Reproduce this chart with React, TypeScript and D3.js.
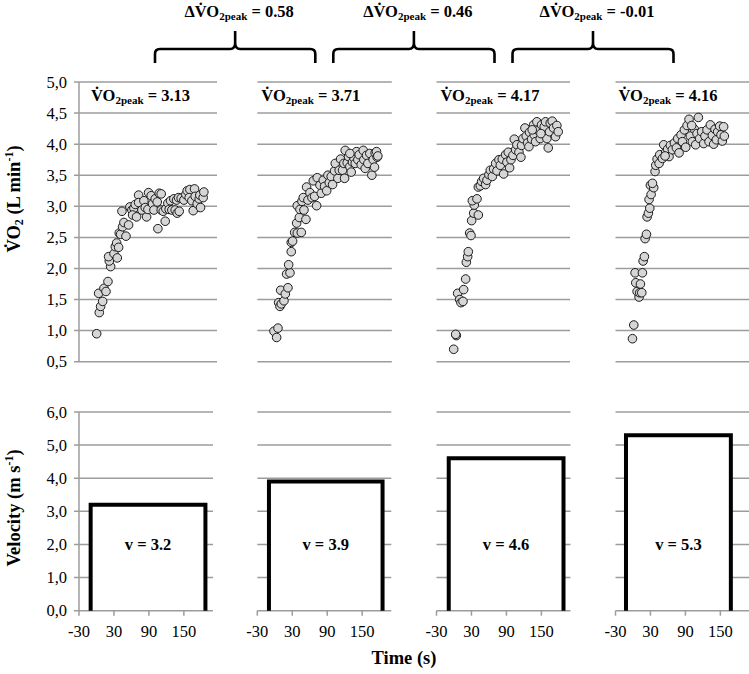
import React from 'react';
import * as d3 from 'd3';

// ---------- DATA ----------
const velocities = [3.2, 3.9, 4.6, 5.3];
const vo2Peaks = ['3.13', '3.71', '4.17', '4.16'];
const deltaPeaks = ['0.58', '0.46', '-0.01'];
const stageStart = [-10, -10, -9, -12];
const stageEnd = [187, 185, 188, 168];
const timeTicks = [-30, 30, 90, 150];
const vo2Ticks = [0.5, 1.0, 1.5, 2.0, 2.5, 3.0, 3.5, 4.0, 4.5, 5.0];
const velTicks = [0, 1, 2, 3, 4, 5, 6];

const vo2Run1: [number, number][] = [
  [0.3, 0.95], [4.8, 1.29], [7.1, 1.39], [10.6, 1.47], [3.7, 1.6], [12.8, 1.68], [16.3, 1.63], [19.7, 1.79],
  [24.3, 2.03], [22, 2.12], [20.8, 2.19], [30, 2.24], [35.7, 2.17], [32.3, 2.35], [34.6, 2.41], [38, 2.34],
  [39.1, 2.57], [41.4, 2.55], [50.6, 2.52], [44.8, 2.67], [47.1, 2.74], [55.1, 2.7], [43.7, 2.92], [57.4, 2.99],
  [60.8, 2.94], [64.3, 2.97], [66.6, 3.03], [62, 2.86], [68.8, 2.83], [72.3, 3.18], [72.3, 3.06], [78, 2.94],
  [81.4, 3.09], [86, 2.83], [83.7, 2.98], [89.4, 3.22], [88.3, 2.95], [94, 3.17], [96.3, 3.04], [98.6, 2.94],
  [100.8, 3.12], [104.3, 3.07], [105.4, 2.64], [107.7, 3.21], [111.1, 3.2], [111.1, 2.94], [114.6, 2.92], [118, 2.76],
  [119.1, 2.96], [122.6, 3.05], [124.8, 2.95], [127.1, 3.09], [129.4, 2.94], [132.8, 3.12], [135.1, 2.94], [137.4, 3.1],
  [138.6, 2.89], [140.8, 3.14], [142, 2.92], [145.4, 3.13], [150, 3.1], [153.4, 3.19], [155.7, 3.25], [160.3, 3.27],
  [159.1, 3.14], [163.7, 3.09], [166, 2.93], [168.3, 3.28], [169.4, 3.16], [172.9, 3.04], [176.3, 3.12], [178.6, 2.98],
  [177.4, 3.18], [183.1, 3.14], [184.3, 3.23],
];

const vo2Run2: [number, number][] = [
  [-1.4, 0.99], [5.5, 1.04], [3.2, 0.89], [6.6, 1.45], [8.9, 1.39], [11.2, 1.43], [15.8, 1.48], [10.1, 1.65],
  [18.1, 1.59], [22.6, 1.69], [20.3, 1.91], [26.1, 1.93], [23.8, 2.06], [28.3, 2.27], [28.3, 2.42], [30.6, 2.44],
  [34.1, 2.58], [38.6, 2.57], [45.5, 2.58], [37.5, 2.73], [42.1, 2.82], [53.5, 2.79], [38.6, 3.01], [43.2, 2.95],
  [50.1, 2.94], [46.6, 3.08], [54.6, 3.31], [48.9, 3.14], [56.9, 3.1], [60.3, 3.22], [63.8, 3.14], [68.3, 3.16],
  [71.8, 3.01], [66.1, 3.41], [72.9, 3.46], [77.5, 3.34], [79.8, 3.21], [83.2, 3.42], [85.5, 3.32], [89.1, 3.25],
  [91.2, 3.5], [93.5, 3.38], [96.9, 3.48], [99.2, 3.35], [102.6, 3.57], [103.8, 3.69], [108.3, 3.45], [110.6, 3.58],
  [112.9, 3.76], [116.3, 3.58], [119.8, 3.45], [120.9, 3.9], [118.6, 3.69], [124.3, 3.7], [126.6, 3.8], [128.9, 3.64],
  [131.2, 3.55], [133.5, 3.71], [135.8, 3.78], [138.1, 3.69], [140.3, 3.88], [142.6, 3.75], [144.9, 3.83], [148.3, 3.67],
  [151.8, 3.9], [152.9, 3.75], [155.2, 3.61], [157.5, 3.82], [159.8, 3.69], [163.2, 3.85], [166.6, 3.5], [168.9, 3.75],
  [171.2, 3.63], [172.3, 3.86], [174.6, 3.88], [175.8, 3.79], [176.9, 3.81], [128.9, 3.85],
];

const vo2Run3: [number, number][] = [
  [-0.5, 0.7], [4.0, 0.92], [2.9, 0.94], [6.3, 1.6], [9.8, 1.5], [12.0, 1.45], [15.5, 1.47], [16.6, 1.66],
  [20.0, 1.83], [21.2, 2.1], [23.5, 2.19], [24.6, 2.27], [26.9, 2.57], [29.2, 2.53], [30.3, 2.77], [33.8, 2.89],
  [41.8, 2.86], [34.9, 3.02], [31.5, 3.09], [39.5, 3.12], [41.8, 3.31], [45.2, 3.33], [47.5, 3.4], [50.9, 3.45],
  [54.3, 3.35], [56.6, 3.42], [60.0, 3.51], [62.3, 3.58], [65.8, 3.48], [68.0, 3.6], [71.5, 3.69], [73.8, 3.57],
  [77.2, 3.75], [79.5, 3.66], [82.9, 3.76], [85.2, 3.52], [88.6, 3.83], [90.9, 3.71], [93.2, 3.87], [95.5, 3.62],
  [97.8, 3.75], [101.2, 3.82], [103.5, 4.08], [105.8, 3.91], [108.0, 3.99], [111.5, 3.87], [114.9, 3.79], [116.0, 3.98],
  [118.3, 4.09], [121.8, 4.26], [124.0, 4.13], [126.3, 4.02], [128.6, 3.96], [129.7, 4.19], [133.2, 4.08], [136.6, 4.31],
  [137.7, 4.15], [140.0, 4.04], [142.3, 4.36], [144.6, 4.22], [148.0, 4.09], [150.3, 4.31], [152.6, 4.17], [154.9, 4.28],
  [157.2, 4.36], [159.5, 4.09], [161.8, 3.94], [164.0, 4.2], [165.2, 4.34], [168.6, 4.37], [170.9, 4.26], [174.3, 4.12],
  [176.6, 4.3], [178.9, 4.2], [149.2, 4.17], [134.3, 4.23],
];

const vo2Run4: [number, number][] = [
  [-0.9, 0.87], [1.4, 1.09], [10.5, 1.54], [7.1, 1.63], [4.8, 1.77], [11.6, 1.61], [15.1, 1.61], [12.8, 1.75],
  [3.6, 1.93], [16.2, 1.93], [17.4, 2.12], [19.6, 2.19], [20.8, 2.48], [23.1, 2.55], [24.2, 2.83], [26.5, 2.89],
  [28.8, 2.97], [27.6, 3.11], [31.1, 3.19], [29.9, 3.34], [35.6, 3.3], [33.4, 3.37], [37.9, 3.56], [39.1, 3.66],
  [41.4, 3.76], [44.8, 3.69], [45.9, 3.83], [50.5, 3.77], [52.8, 3.99], [56.2, 3.87], [59.6, 3.92], [61.9, 3.8],
  [64.2, 3.98], [67.6, 3.91], [71.1, 4.02], [74.5, 3.94], [79.1, 3.86], [76.8, 4.09], [82.5, 4.15], [84.8, 4.04],
  [88.2, 4.23], [90.5, 3.95], [92.8, 4.3], [96.2, 4.4], [98.5, 4.13], [101.9, 4.04], [105.3, 4.24], [107.6, 3.99],
  [112.2, 4.43], [109.9, 4.17], [114.5, 4.09], [117.9, 4.2], [121.4, 4.01], [123.6, 4.13], [127.1, 4.23], [130.5, 4.04],
  [132.8, 4.31], [136.2, 4.14], [138.5, 4.0], [140.8, 4.24], [143.1, 4.07], [145.4, 4.2], [148.8, 4.29], [151.1, 4.15],
  [153.4, 4.05], [155.6, 4.28], [156.8, 4.13], [100.8, 4.3], [55.1, 3.81],
];

const vo2Runs = [vo2Run1, vo2Run2, vo2Run3, vo2Run4];

// ---------- LAYOUT ----------
const W = 749;
const H = 674;
const panelX0 = [79, 257.3, 436.5, 615.5];
const topGridWidth = [138, 134.5, 133.5, 140];
const plotWidth = 134;
const peakLabelDx = [12, 4, 4, 3];
const braceY = { tip: 31, bar: 49, end: 63 };
const serif = 'Liberation Serif';
const gridColor = '#9c9c9c';

const yTop = d3.scaleLinear().domain([0.5, 5]).range([361.7, 82]);
const yBot = d3.scaleLinear().domain([0, 6]).range([610.7, 412]);
const xScales = panelX0.map((x0) => d3.scaleLinear().domain([-30, 200]).range([x0, x0 + plotWidth]));
const comma = (v: number) => d3.format('.1f')(v).replace('.', ',');

function VO2Text({ prefix, value, sub }: { prefix: string; value: string; sub: number }) {
  return (
    <>
      <tspan>{prefix}V&#775;O</tspan>
      <tspan fontSize={sub} dy={3}>2peak</tspan>
      <tspan dy={-3}>{` = ${value}`}</tspan>
    </>
  );
}

function bracePath(x1: number, x2: number) {
  const xm = (x1 + x2) / 2;
  const { tip, bar, end } = braceY;
  return (
    `M${x1},${end} V${bar + 5} Q${x1},${bar} ${x1 + 5},${bar} H${xm - 5} Q${xm},${bar} ${xm},${bar - 6} V${tip} ` +
    `M${x2},${end} V${bar + 5} Q${x2},${bar} ${x2 - 5},${bar} H${xm + 5} Q${xm},${bar} ${xm},${bar - 6}`
  );
}

export default function App() {
  const braceCenters = panelX0.map((x0) => x0 + 76);
  return (
    <svg width={W} height={H} style={{ position: 'absolute', left: 0, top: 0, background: '#fff' }} fontFamily={serif}>
      <rect x={0} y={0} width={W} height={H} fill="#fff" />

      {/* braces and delta labels */}
      {deltaPeaks.map((d, i) => {
        const x1 = braceCenters[i];
        const x2 = braceCenters[i + 1] - 18;
        const xm = (x1 + x2) / 2;
        return (
          <g key={'brace' + i}>
            <path d={bracePath(x1, x2)} fill="none" stroke="#000" strokeWidth={2.6} />
            <text x={xm + 4} y={17} textAnchor="middle" fontSize={16.5} fontWeight="bold" fontFamily={serif}>
              <VO2Text prefix={'\u0394'} value={d} sub={11} />
            </text>
          </g>
        );
      })}

      {/* top panels */}
      {vo2Runs.map((run, i) => {
        const x = xScales[i];
        const x0 = panelX0[i];
        return (
          <g key={'top' + i}>
            {vo2Ticks.map((t) => (
              <line key={t} x1={i === 0 ? x0 - 5 : x0} x2={x0 + topGridWidth[i]} y1={yTop(t)} y2={yTop(t)} stroke={gridColor} strokeWidth={1.5} />
            ))}
            {i === 0 && <line x1={x0} x2={x0} y1={yTop(5)} y2={yTop(0.5)} stroke={gridColor} strokeWidth={1.5} />}
            <text x={x0 + peakLabelDx[i]} y={101} fontSize={16.5} fontWeight="bold" fontFamily={serif}>
              <VO2Text prefix="" value={vo2Peaks[i]} sub={11} />
            </text>
            {run.map(([t, v], k) => (
              <circle key={k} cx={x(t)} cy={yTop(v)} r={4.3} fill="#d6d6d6" stroke="#1a1a1a" strokeWidth={1} />
            ))}
          </g>
        );
      })}

      {/* top y ticks */}
      {vo2Ticks.map((t) => (
        <text key={'yt' + t} x={67} y={yTop(t)} dy="0.35em" textAnchor="end" fontSize={16.5} fontFamily={serif}>{comma(t)}</text>
      ))}

      {/* bottom panels */}
      {velocities.map((v, i) => {
        const x = xScales[i];
        const x0 = panelX0[i];
        const xa = x(stageStart[i]);
        const xb = x(stageEnd[i]);
        return (
          <g key={'bot' + i}>
            {velTicks.filter((t) => t > 0).map((t) => (
              <line key={t} x1={i === 0 ? x0 - 5 : x0} x2={x0 + plotWidth} y1={yBot(t)} y2={yBot(t)} stroke={gridColor} strokeWidth={1.5} />
            ))}
            <rect x={xa} y={yBot(v)} width={xb - xa} height={yBot(0) - yBot(v)} fill="#fff" />
            <line x1={i === 0 ? x0 - 5 : x0} x2={x0 + plotWidth} y1={yBot(0)} y2={yBot(0)} stroke={gridColor} strokeWidth={1.5} />
            {i === 0 && <line x1={x0} x2={x0} y1={yBot(6)} y2={yBot(0)} stroke={gridColor} strokeWidth={1.5} />}
            {timeTicks.map((t) => (
              <g key={t}>
                <line x1={x(t)} x2={x(t)} y1={yBot(0)} y2={yBot(0) + 5} stroke={gridColor} strokeWidth={1.5} />
                <text x={x(t)} y={637} textAnchor="middle" fontSize={16.5} fontFamily={serif}>{t}</text>
              </g>
            ))}
            <path d={`M${xa},${yBot(0)} V${yBot(v)} H${xb} V${yBot(0)}`} fill="none" stroke="#000" strokeWidth={4} strokeLinejoin="miter" />
            <text x={(xa + xb) / 2} y={yBot(2)} dy="0.35em" textAnchor="middle" fontSize={16.5} fontWeight="bold" fontFamily={serif}>{`v = ${v.toFixed(1)}`}</text>
          </g>
        );
      })}

      {/* bottom y ticks */}
      {velTicks.map((t) => (
        <text key={'vt' + t} x={67} y={yBot(t)} dy="0.35em" textAnchor="end" fontSize={16.5} fontFamily={serif}>{comma(t)}</text>
      ))}

      {/* axis titles */}
      <text transform="translate(20,199) rotate(-90)" textAnchor="middle" fontSize={18.5} fontWeight="bold" fontFamily={serif}>
        <tspan>V&#775;O</tspan>
        <tspan fontSize={12} dy={3}>2</tspan>
        <tspan dy={-3}> (L min</tspan>
        <tspan fontSize={12} dy={-7}>-1</tspan>
        <tspan dy={7}>)</tspan>
      </text>
      <text transform="translate(20,508) rotate(-90)" textAnchor="middle" fontSize={18.5} fontWeight="bold" fontFamily={serif}>
        <tspan>Velocity (m s</tspan>
        <tspan fontSize={12} dy={-7}>-1</tspan>
        <tspan dy={7}>)</tspan>
      </text>
      <text x={404} y={664} textAnchor="middle" fontSize={18.5} fontWeight="bold" fontFamily={serif}>Time (s)</text>
    </svg>
  );
}
